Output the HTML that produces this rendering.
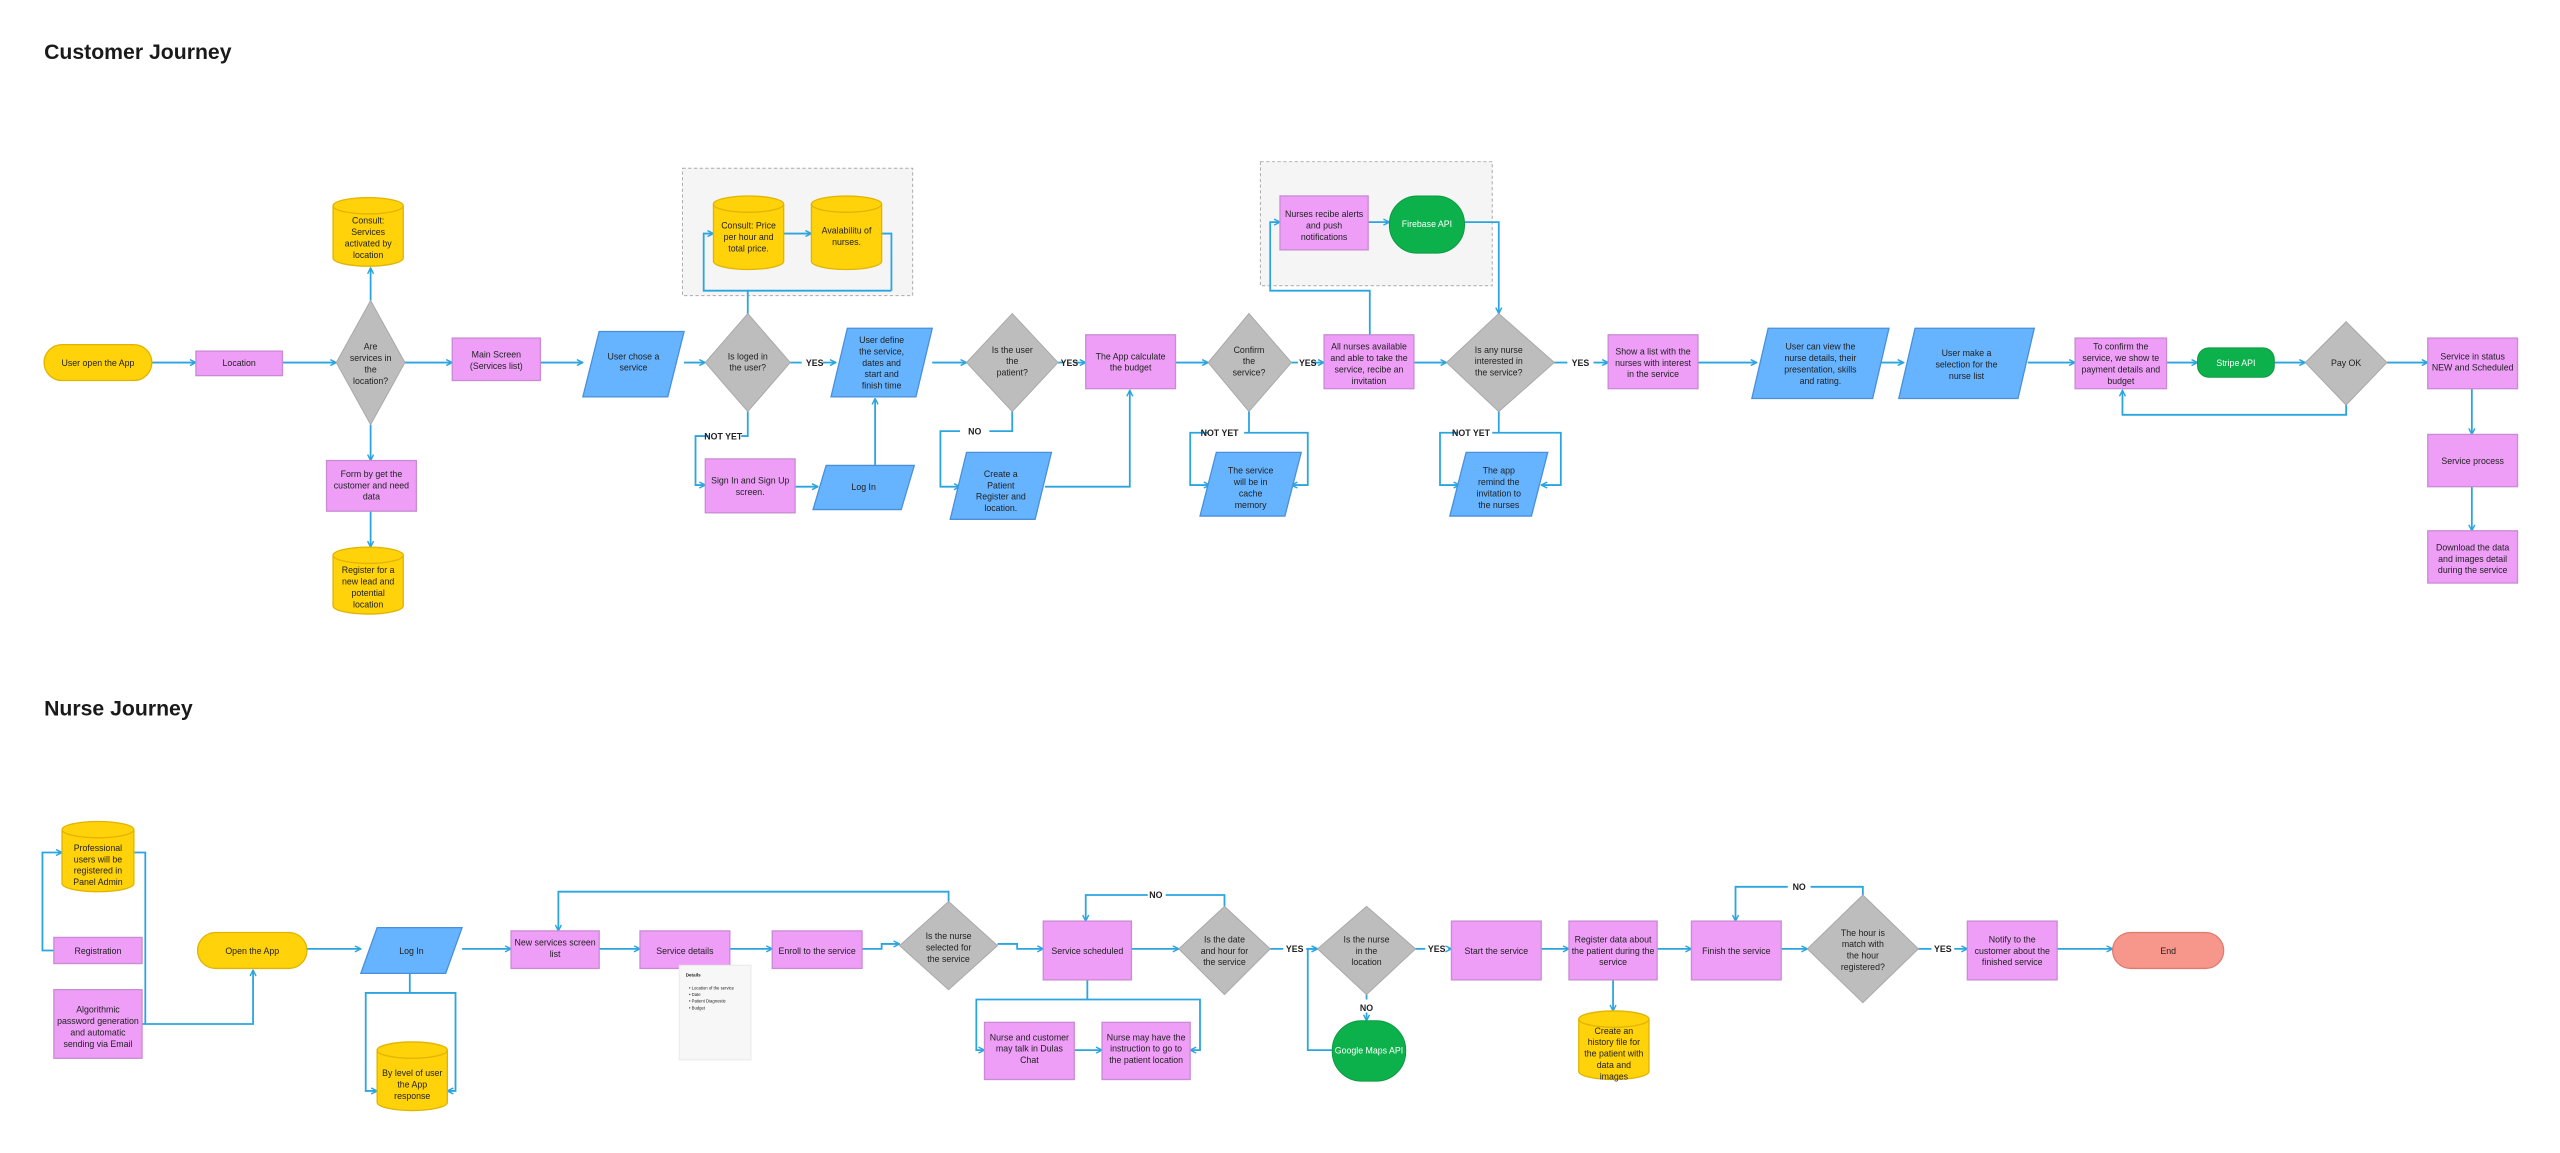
<!DOCTYPE html>
<html><head><meta charset="utf-8"><style>
html,body{margin:0;padding:0;background:#fff;}
svg{display:block;}
text{font-family:"Liberation Sans",Arial,sans-serif;fill:#222;}
.t{font-size:5.4px;text-anchor:middle;}
.w{fill:#fff;}
.b{font-size:5.4px;font-weight:bold;text-anchor:middle;fill:#222;}
.ln{fill:none;stroke:#2BA5DF;stroke-width:1.1;}
.y{fill:#FFD20A;stroke:#E0B400;stroke-width:0.8;}
.p{fill:#EE9EF7;stroke:#C98BD3;stroke-width:0.8;}
.bl{fill:#66B3FF;stroke:#4A90D9;stroke-width:0.8;}
.g{fill:#BDBDBD;stroke:#A8A8A8;stroke-width:0.6;}
.gr{fill:#0DB14B;stroke:#0a9a40;stroke-width:0.6;}
</style></head><body>
<svg width="2560" height="1153" viewBox="0 0 1568 706" preserveAspectRatio="none" xmlns="http://www.w3.org/2000/svg">
<defs><marker id="a" viewBox="0 0 6 6" refX="5.5" refY="3" markerWidth="4" markerHeight="4" orient="auto"><path d="M0.5,0.5 L5.5,3 L0.5,5.5" fill="none" stroke="#2BA5DF" stroke-width="1.2"/></marker></defs>
<rect width="1568" height="706" fill="#fff"/>
<text x="27" y="36" style="font-size:13px;font-weight:bold;fill:#1a1a1a">Customer Journey</text>
<text x="27" y="438" style="font-size:13px;font-weight:bold;fill:#1a1a1a">Nurse Journey</text>

<rect x="418" y="103" width="141" height="78" fill="#F5F5F5" stroke="#aaa" stroke-width="0.6" stroke-dasharray="2,1.5"/>
<rect x="772" y="99" width="142" height="76" fill="#F5F5F5" stroke="#aaa" stroke-width="0.6" stroke-dasharray="2,1.5"/>

<g class="ln" marker-end="url(#a)">
<path d="M93,222H120"/><path d="M173,222H206"/><path d="M248,222H277"/>
<path d="M227,184V164"/><path d="M227,260V282"/><path d="M227,313V335"/>
<path d="M331,222H357"/><path d="M419,222H432"/><path d="M504,222H512"/>
<path d="M458,192V178H431V143H437"/><path d="M480,143H497"/>
<path d="M434,267H426V297H432"/>
<path d="M487,298H501"/><path d="M536,285V244"/>
<path d="M571,222H592"/><path d="M658,222H665"/>
<path d="M588,264H576V298H588"/>
<path d="M640,298H692V239"/>
<path d="M720,222H740"/><path d="M803,222H811"/>
<path d="M740,265H729V297H741"/><path d="M765,265H801V297H791"/>
<path d="M839,205V178H778V136H784"/><path d="M838,136H851"/>
<path d="M897,136H918V192"/><path d="M866,222H886"/>
<path d="M976,222H985"/>
<path d="M893,265H882V297H894"/><path d="M918,265H956V297H944"/>
<path d="M1040,222H1076"/><path d="M1152,222H1166"/><path d="M1242,222H1271"/>
<path d="M1327,222H1346"/><path d="M1393,222H1412"/><path d="M1462,222H1487"/>
<path d="M1437,248V254H1300V239"/>
<path d="M1514,238V266"/><path d="M1514,298V325"/>
</g>
<g class="ln"><path d="M484,222H491"/><path d="M546,178H458M546,178V143H540"/><path d="M648,222H652"/><path d="M791,222H795"/><path d="M952,222H960"/>
<path d="M458,252V267H454"/><path d="M620,252V264H606"/><path d="M765,252V265H762"/><path d="M918,252V265H914"/></g>
<text class="b" x="499" y="224">YES</text>
<text class="b" x="443" y="269">NOT YET</text>
<text class="b" x="597" y="266">NO</text>
<text class="b" x="655" y="224">YES</text>
<text class="b" x="801" y="224">YES</text>
<text class="b" x="747" y="267">NOT YET</text>
<text class="b" x="968" y="224">YES</text>
<text class="b" x="901" y="267">NOT YET</text>

<rect class="y" x="27" y="211" width="66" height="22" rx="11"/><text class="t" x="60" y="224">User open the App</text>
<rect class="p" x="120" y="215" width="53" height="15"/><text class="t" x="146.5" y="224">Location</text>
<polygon class="g" points="227,184 248,222 227,260 206,222"/>
<text class="t" x="227" y="214">Are</text><text class="t" x="227" y="221">services in</text><text class="t" x="227" y="228">the</text><text class="t" x="227" y="235">location?</text>
<path class="y" d="M204,126 A21.5,5 0 0 1 247,126 V158 A21.5,5 0 0 1 204,158 Z"/><path d="M204,126 A21.5,5 0 0 0 247,126" fill="none" stroke="#E0B400" stroke-width="0.8"/>
<text class="t" x="225.5" y="137">Consult:</text><text class="t" x="225.5" y="144">Services</text><text class="t" x="225.5" y="151">activated by</text><text class="t" x="225.5" y="158">location</text>
<rect class="p" x="200" y="282" width="55" height="31"/><text class="t" x="227.5" y="292">Form by get the</text><text class="t" x="227.5" y="299">customer and need</text><text class="t" x="227.5" y="306">data</text>
<path class="y" d="M204,340 A21.5,5 0 0 1 247,340 V371 A21.5,5 0 0 1 204,371 Z"/><path d="M204,340 A21.5,5 0 0 0 247,340" fill="none" stroke="#E0B400" stroke-width="0.8"/>
<text class="t" x="225.5" y="351">Register for a</text><text class="t" x="225.5" y="358">new lead and</text><text class="t" x="225.5" y="365">potential</text><text class="t" x="225.5" y="372">location</text>
<rect class="p" x="277" y="207" width="54" height="26"/><text class="t" x="304" y="219">Main Screen</text><text class="t" x="304" y="226">(Services list)</text>
<polygon class="bl" points="367,203 419,203 409,243 357,243"/><text class="t" x="388" y="220">User chose a</text><text class="t" x="388" y="227">service</text>
<polygon class="g" points="458,192 484,222 458,252 432,222"/><text class="t" x="458" y="220">Is loged in</text><text class="t" x="458" y="227">the user?</text>
<path class="y" d="M437,125 A21.5,5 0 0 1 480,125 V160 A21.5,5 0 0 1 437,160 Z"/><path d="M437,125 A21.5,5 0 0 0 480,125" fill="none" stroke="#E0B400" stroke-width="0.8"/>
<text class="t" x="458.5" y="140">Consult: Price</text><text class="t" x="458.5" y="147">per hour and</text><text class="t" x="458.5" y="154">total price.</text>
<path class="y" d="M497,125 A21.5,5 0 0 1 540,125 V160 A21.5,5 0 0 1 497,160 Z"/><path d="M497,125 A21.5,5 0 0 0 540,125" fill="none" stroke="#E0B400" stroke-width="0.8"/>
<text class="t" x="518.5" y="143">Avalabilitu of</text><text class="t" x="518.5" y="150">nurses.</text>
<polygon class="bl" points="519,201 571,201 561,243 509,243"/>
<text class="t" x="540" y="210">User define</text><text class="t" x="540" y="217">the service,</text><text class="t" x="540" y="224">dates and</text><text class="t" x="540" y="231">start and</text><text class="t" x="540" y="238">finish time</text>
<rect class="p" x="432" y="281" width="55" height="33"/><text class="t" x="459.5" y="296">Sign In and Sign Up</text><text class="t" x="459.5" y="303">screen.</text>
<polygon class="bl" points="506,285 560,285 552,312 498,312"/><text class="t" x="529" y="300">Log In</text>
<polygon class="g" points="620,192 648,222 620,252 592,222"/><text class="t" x="620" y="216">Is the user</text><text class="t" x="620" y="223">the</text><text class="t" x="620" y="230">patient?</text>
<polygon class="bl" points="592,277 644,277 634,318 582,318"/>
<text class="t" x="613" y="292">Create a</text><text class="t" x="613" y="299">Patient</text><text class="t" x="613" y="306">Register and</text><text class="t" x="613" y="313">location.</text>
<rect class="p" x="665" y="205" width="55" height="33"/><text class="t" x="692.5" y="220">The App calculate</text><text class="t" x="692.5" y="227">the budget</text>
<polygon class="g" points="765,192 791,222 765,252 740,222"/><text class="t" x="765" y="216">Confirm</text><text class="t" x="765" y="223">the</text><text class="t" x="765" y="230">service?</text>
<polygon class="bl" points="745,277 797,277 787,316 735,316"/>
<text class="t" x="766" y="290">The service</text><text class="t" x="766" y="297">will be in</text><text class="t" x="766" y="304">cache</text><text class="t" x="766" y="311">memory</text>
<rect class="p" x="811" y="205" width="55" height="33"/>
<text class="t" x="838.5" y="214">All nurses available</text><text class="t" x="838.5" y="221">and able to take the</text><text class="t" x="838.5" y="228">service, recibe an</text><text class="t" x="838.5" y="235">invitation</text>
<rect class="p" x="784" y="120" width="54" height="33"/><text class="t" x="811" y="133">Nurses recibe alerts</text><text class="t" x="811" y="140">and push</text><text class="t" x="811" y="147">notifications</text>
<rect class="gr" x="851" y="120" width="46" height="35" rx="17"/><text class="t w" x="874" y="139">Firebase API</text>
<polygon class="g" points="918,192 952,222 918,252 886,222"/><text class="t" x="918" y="216">Is any nurse</text><text class="t" x="918" y="223">interested in</text><text class="t" x="918" y="230">the service?</text>
<polygon class="bl" points="898,277 948,277 938,316 888,316"/>
<text class="t" x="918" y="290">The app</text><text class="t" x="918" y="297">remind the</text><text class="t" x="918" y="304">invitation to</text><text class="t" x="918" y="311">the nurses</text>
<rect class="p" x="985" y="205" width="55" height="33"/><text class="t" x="1012.5" y="217">Show a list with the</text><text class="t" x="1012.5" y="224">nurses with interest</text><text class="t" x="1012.5" y="231">in the service</text>
<polygon class="bl" points="1083,201 1157,201 1147,244 1073,244"/>
<text class="t" x="1115" y="214">User can view the</text><text class="t" x="1115" y="221">nurse details, their</text><text class="t" x="1115" y="228">presentation, skills</text><text class="t" x="1115" y="235">and rating.</text>
<polygon class="bl" points="1173,201 1246,201 1236,244 1163,244"/>
<text class="t" x="1204.5" y="218">User make a</text><text class="t" x="1204.5" y="225">selection for the</text><text class="t" x="1204.5" y="232">nurse list</text>
<rect class="p" x="1271" y="207" width="56" height="31"/>
<text class="t" x="1299" y="214">To confirm the</text><text class="t" x="1299" y="221">service, we show te</text><text class="t" x="1299" y="228">payment details and</text><text class="t" x="1299" y="235">budget</text>
<rect class="gr" x="1346" y="213" width="47" height="18" rx="7"/><text class="t w" x="1369.5" y="224">Stripe API</text>
<polygon class="g" points="1437,197 1462,222 1437,248 1412,222"/><text class="t" x="1437" y="224">Pay OK</text>
<rect class="p" x="1487" y="207" width="55" height="31"/><text class="t" x="1514.5" y="220">Service in status</text><text class="t" x="1514.5" y="227">NEW and Scheduled</text>
<rect class="p" x="1487" y="266" width="55" height="32"/><text class="t" x="1514.5" y="284">Service process</text>
<rect class="p" x="1487" y="325" width="55" height="32"/><text class="t" x="1514.5" y="337">Download the data</text><text class="t" x="1514.5" y="344">and images detail</text><text class="t" x="1514.5" y="351">during the service</text>

<g class="ln" marker-end="url(#a)">
<path d="M33,582H26V522H38"/>
<path d="M87,627H155V594"/>
<path d="M188,581H221"/><path d="M283,581H313"/>
<path d="M251,596V608H224V668H231"/><path d="M251,608H279V668H274"/>
<path d="M367,581H392"/><path d="M447,581H473"/><path d="M528,581H540V578H551"/>
<path d="M611,578H623V581H639"/>
<path d="M581,552V546H342V570"/>
<path d="M693,581H722"/>
<path d="M703,548H665V564"/>
<path d="M666,600V612H598V643H603"/><path d="M666,612H735V643H729"/>
<path d="M658,643H675"/>
<path d="M800,581H807"/><path d="M887,581H889"/>
<path d="M837,620V625"/>
<path d="M816,643H801V581H807"/>
<path d="M944,581H961"/><path d="M988,600V619"/><path d="M1015,581H1036"/><path d="M1091,581H1107"/>
<path d="M1095,543H1063V564"/>
<path d="M1197,581H1205"/><path d="M1260,581H1294"/>
</g>
<g class="ln"><path d="M82,522H89V627"/><path d="M778,581H786"/><path d="M867,581H873"/><path d="M837,609V612"/><path d="M1175,581H1183"/>
<path d="M750,555V548H714"/><path d="M1141,548V543H1109"/></g>
<text class="b" x="793" y="583">YES</text>
<text class="b" x="880" y="583">YES</text>
<text class="b" x="837" y="619">NO</text>
<text class="b" x="708" y="550">NO</text>
<text class="b" x="1102" y="545">NO</text>
<text class="b" x="1190" y="583">YES</text>

<path class="y" d="M38,508 A22,5 0 0 1 82,508 V541 A22,5 0 0 1 38,541 Z"/><path d="M38,508 A22,5 0 0 0 82,508" fill="none" stroke="#E0B400" stroke-width="0.8"/>
<text class="t" x="60" y="521">Professional</text><text class="t" x="60" y="528">users will be</text><text class="t" x="60" y="535">registered in</text><text class="t" x="60" y="542">Panel Admin</text>
<rect class="p" x="33" y="574" width="54" height="16"/><text class="t" x="60" y="584">Registration</text>
<rect class="p" x="33" y="606" width="54" height="42"/>
<text class="t" x="60" y="620">Algorithmic</text><text class="t" x="60" y="627">password generation</text><text class="t" x="60" y="634">and automatic</text><text class="t" x="60" y="641">sending via Email</text>
<rect class="y" x="121" y="571" width="67" height="22" rx="11"/><text class="t" x="154.5" y="584">Open the App</text>
<polygon class="bl" points="231,568 283,568 273,596 221,596"/><text class="t" x="252" y="584">Log In</text>
<path class="y" d="M231,643 A21.5,5 0 0 1 274,643 V675 A21.5,5 0 0 1 231,675 Z"/><path d="M231,643 A21.5,5 0 0 0 274,643" fill="none" stroke="#E0B400" stroke-width="0.8"/>
<text class="t" x="252.5" y="659">By level of user</text><text class="t" x="252.5" y="666">the App</text><text class="t" x="252.5" y="673">response</text>
<rect class="p" x="313" y="570" width="54" height="23"/><text class="t" x="340" y="579">New services screen</text><text class="t" x="340" y="586">list</text>
<rect class="p" x="392" y="570" width="55" height="23"/><text class="t" x="419.5" y="584">Service details</text>
<rect x="416" y="591" width="44" height="58" fill="#F7F7F7" stroke="#e6e6e6" stroke-width="0.5"/>
<text x="420" y="598" style="font-size:2.8px;font-weight:bold">Details</text>
<text x="422" y="606" style="font-size:2.6px">• Location of the service</text>
<text x="422" y="610" style="font-size:2.6px">• Date</text>
<text x="422" y="614" style="font-size:2.6px">• Patient Diagnostic</text>
<text x="422" y="618" style="font-size:2.6px">• Budget</text>
<rect class="p" x="473" y="570" width="55" height="23"/><text class="t" x="500.5" y="584">Enroll to the service</text>
<polygon class="g" points="581,552 611,579 581,606 551,579"/><text class="t" x="581" y="575">Is the nurse</text><text class="t" x="581" y="582">selected for</text><text class="t" x="581" y="589">the service</text>
<rect class="p" x="639" y="564" width="54" height="36"/><text class="t" x="666" y="584">Service scheduled</text>
<polygon class="g" points="750,555 778,581 750,609 722,581"/><text class="t" x="750" y="577">Is the date</text><text class="t" x="750" y="584">and hour for</text><text class="t" x="750" y="591">the service</text>
<rect class="p" x="603" y="626" width="55" height="35"/><text class="t" x="630.5" y="637">Nurse and customer</text><text class="t" x="630.5" y="644">may talk in Dulas</text><text class="t" x="630.5" y="651">Chat</text>
<rect class="p" x="675" y="626" width="54" height="35"/><text class="t" x="702" y="637">Nurse may have the</text><text class="t" x="702" y="644">instruction to go to</text><text class="t" x="702" y="651">the patient location</text>
<polygon class="g" points="837,555 867,581 837,609 807,581"/><text class="t" x="837" y="577">Is the nurse</text><text class="t" x="837" y="584">in the</text><text class="t" x="837" y="591">location</text>
<rect class="gr" x="816" y="625" width="45" height="37" rx="18"/><text class="t w" x="838.5" y="645">Google Maps API</text>
<rect class="p" x="889" y="564" width="55" height="36"/><text class="t" x="916.5" y="584">Start the service</text>
<rect class="p" x="961" y="564" width="54" height="36"/><text class="t" x="988" y="577">Register data about</text><text class="t" x="988" y="584">the patient during the</text><text class="t" x="988" y="591">service</text>
<path class="y" d="M967,624 A21.5,5 0 0 1 1010,624 V656 A21.5,5 0 0 1 967,656 Z"/><path d="M967,624 A21.5,5 0 0 0 1010,624" fill="none" stroke="#E0B400" stroke-width="0.8"/>
<text class="t" x="988.5" y="633">Create an</text><text class="t" x="988.5" y="640">history file for</text><text class="t" x="988.5" y="647">the patient with</text><text class="t" x="988.5" y="654">data and</text><text class="t" x="988.5" y="661">images</text>
<rect class="p" x="1036" y="564" width="55" height="36"/><text class="t" x="1063.5" y="584">Finish the service</text>
<polygon class="g" points="1141,548 1175,581 1141,614 1107,581"/>
<text class="t" x="1141" y="573">The hour is</text><text class="t" x="1141" y="580">match with</text><text class="t" x="1141" y="587">the hour</text><text class="t" x="1141" y="594">registered?</text>
<rect class="p" x="1205" y="564" width="55" height="36"/><text class="t" x="1232.5" y="577">Notify to the</text><text class="t" x="1232.5" y="584">customer about the</text><text class="t" x="1232.5" y="591">finished service</text>
<rect x="1294" y="571" width="68" height="22" rx="11" fill="#F7968A" stroke="#E07A70" stroke-width="0.8"/><text class="t" x="1328" y="584">End</text>
</svg>
</body></html>
